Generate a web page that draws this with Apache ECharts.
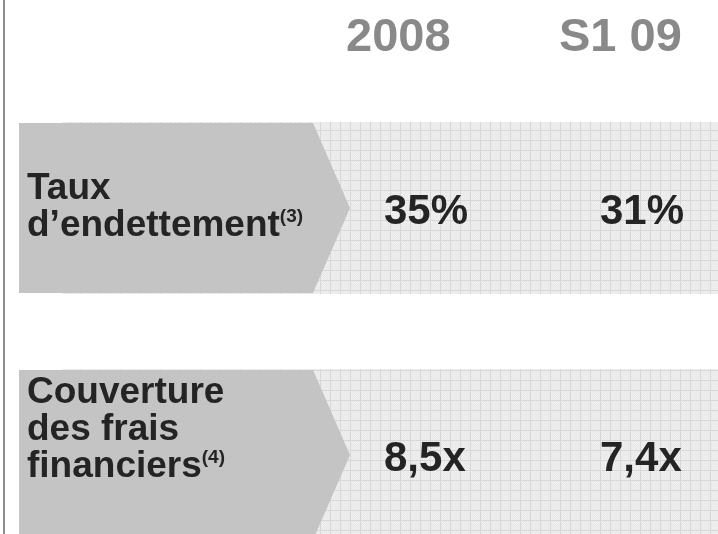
<!DOCTYPE html>
<html>
<head>
<meta charset="utf-8">
<script src="https://cdn.jsdelivr.net/npm/echarts@6/dist/echarts.min.js"></script>
<style>
  html, body { margin: 0; padding: 0; background: #fff; }
  #main { width: 718px; height: 534px; }
</style>
</head>
<body>
<div id="main"></div>
<script>
// données du tableau
const periods = ['2008', 'S1 09'];
const metrics = [['Taux', 'd’endettement'], ['Couverture', 'des frais', 'financiers']];
const notes = ['(3)', '(4)'];
const values2008 = [35, 8.5];
const valuesS109 = [31, 7.4];
const units = ['%', 'x'];

// mise en page (px)
const rowTop = [122, 369];
const rowHeight = 172;
const labelMid = [207, 430];
const colX = [384, 600];
const headX = [346, 559];

const font = 'Liberation Sans, Arial, sans-serif';

// motif quadrillé du fond
function makePattern () {
  let c = document.createElement('canvas');
  c.width = 10; c.height = 10;
  let ctx = c.getContext('2d');
  ctx.fillStyle = '#e8e8e8';
  ctx.fillRect(0, 0, 10, 10);
  ctx.fillStyle = '#f0f0f0';
  for (let y = 0; y < 10; y++) {
    for (let x = 0; x < 10; x++) {
      if ((x + y) % 2 === 0) ctx.fillRect(x, y, 1, 1);
    }
  }
  ctx.fillStyle = '#d7d7d7';
  ctx.fillRect(0, 0, 10, 1);
  ctx.fillRect(0, 0, 1, 10);
  return c;
}
const pattern = { image: makePattern(), repeat: 'repeat' };

function fmt (v, unit) {
  return String(v).replace('.', ',') + unit;
}

let myChart = echarts.init(document.getElementById('main'), null, { renderer: 'canvas' });

myChart.setOption({
  animation: false,
  grid: { left: 0, right: 0, top: 0, bottom: 0 },
  xAxis: { type: 'value', min: 0, max: 718, show: false },
  yAxis: { type: 'value', min: 0, max: 534, inverse: true, show: false },
  graphic: [{
    type: 'rect',
    shape: { x: 3, y: 0, width: 2, height: 534 },
    style: { fill: '#8c8c8c' }
  }],
  series: [
    {
      // en-têtes des colonnes
      type: 'custom',
      data: periods.map((p, i) => [i]),
      renderItem: function (params, api) {
        let i = api.value(0);
        let pt = api.coord([headX[i], 38]);
        return {
          type: 'text',
          style: {
            text: periods[i],
            x: pt[0], y: pt[1],
            verticalAlign: 'middle',
            fill: '#898989',
            font: 'bold 47px ' + font
          }
        };
      }
    },
    {
      // lignes du tableau
      type: 'custom',
      data: metrics.map((m, i) => [i]),
      renderItem: function (params, api) {
        let i = api.value(0);
        let top = rowTop[i];
        let bottom = top + rowHeight;
        let mid = top + rowHeight / 2;
        let p0 = api.coord([62, top]);
        let p1 = api.coord([718, bottom]);
        let chev = [[19, top + 1], [313, top + 1], [350, mid], [313, bottom - 1], [19, bottom - 1]]
          .map(p => api.coord(p));
        let lines = metrics[i].map((t, k) => {
          let last = k === metrics[i].length - 1;
          return '{m|' + t + '}' + (last ? '{s|' + notes[i] + '}' : '');
        }).join('\n');
        let lp = api.coord([27, labelMid[i]]);
        let children = [
          {
            type: 'rect',
            shape: { x: p0[0], y: p0[1], width: p1[0] - p0[0], height: p1[1] - p0[1] },
            style: { fill: pattern }
          },
          {
            type: 'polygon',
            shape: { points: chev },
            style: { fill: '#c4c4c4' }
          },
          {
            type: 'text',
            style: {
              text: lines,
              x: lp[0], y: lp[1],
              verticalAlign: 'middle',
              rich: {
                m: { fontSize: 37, lineHeight: 37, fontWeight: 'bold', fontFamily: font, fill: '#242424' },
                s: { fontSize: 19, lineHeight: 35, fontWeight: 'bold', fontFamily: font, fill: '#242424', verticalAlign: 'top' }
              }
            }
          }
        ];
        [values2008[i], valuesS109[i]].forEach((v, c) => {
          let vp = api.coord([colX[c], mid + 4]);
          children.push({
            type: 'text',
            style: {
              text: fmt(v, units[i]),
              x: vp[0], y: vp[1],
              verticalAlign: 'middle',
              fill: '#242424',
              font: 'bold 42px ' + font
            }
          });
        });
        return { type: 'group', children: children };
      }
    }
  ]
});
</script>
</body>
</html>
